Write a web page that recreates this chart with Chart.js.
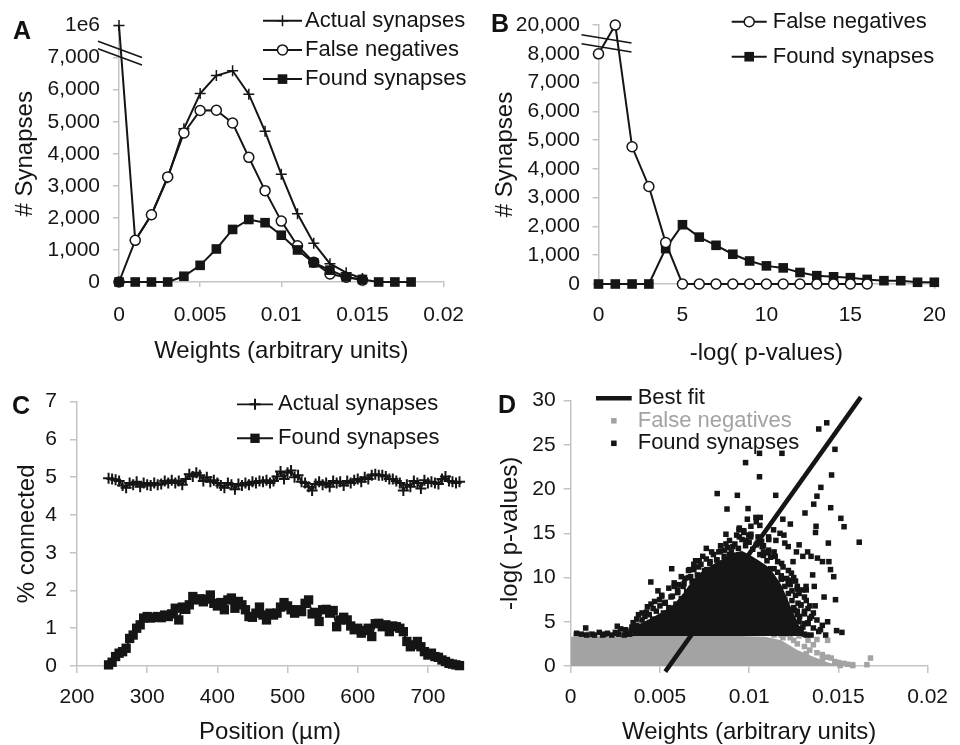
<!DOCTYPE html>
<html>
<head>
<meta charset="utf-8">
<script src="https://cdn.jsdelivr.net/npm/chart.js@4.4.1/dist/chart.umd.min.js"></script>
<style>
  body { margin: 0; background: #fff; }
  #fig { position: relative; width: 960px; height: 745px; font-family: "Liberation Sans", Arial, sans-serif; }
  .panel { position: absolute; }
  .tag { position: absolute; font-weight: bold; font-size: 25px; line-height: 1; transform: translate(-50%, -50%); color: #111; }
</style>
</head>
<body>
<div id="fig">
  <div class="panel" style="left:0;top:0;width:480px;height:372px"><canvas id="chartA"></canvas></div>
  <div class="panel" style="left:480px;top:0;width:480px;height:372px"><canvas id="chartB"></canvas></div>
  <div class="panel" style="left:0;top:372px;width:480px;height:373px"><canvas id="chartC"></canvas></div>
  <div class="panel" style="left:480px;top:372px;width:480px;height:373px"><canvas id="chartD"></canvas></div>
  <div class="tag" style="left:22px;top:30px">A</div>
  <div class="tag" style="left:500px;top:23px">B</div>
  <div class="tag" style="left:21px;top:405px">C</div>
  <div class="tag" style="left:507px;top:404px">D</div>
</div>
<script>
// ---- Panel A: synapse counts vs weight ----
const weightsA = [0, 0.001, 0.002, 0.003, 0.004, 0.005, 0.006, 0.007, 0.008, 0.009, 0.010, 0.011, 0.012, 0.013, 0.014, 0.015, 0.016, 0.017, 0.018];
const actualA = [8000, 1300, 2100, 3250, 4780, 5880, 6440, 6590, 5860, 4700, 3360, 2130, 1210, 570, 290, 110];
const falseNegA = [0, 1300, 2100, 3280, 4650, 5350, 5360, 4960, 3890, 2850, 1900, 1130, 620, 250, 150, 60];
const foundA = [0, 0, 0, 0, 180, 520, 1030, 1640, 1950, 1850, 1460, 1000, 600, 370, 160, 80, 0, 0, 0];
const countTicksA = [0, 1000, 2000, 3000, 4000, 5000, 6000, 7000, 8000];
const countTextA = ['0', '1,000', '2,000', '3,000', '4,000', '5,000', '6,000', '7,000', '1e6'];
const weightTicks = [0, 0.005, 0.01, 0.015, 0.02];
const weightText = ['0', '0.005', '0.01', '0.015', '0.02'];

// ---- Panel B: synapse counts vs -log(p) ----
const pvalsB = [0, 1, 2, 3, 4, 5, 6, 7, 8, 9, 10, 11, 12, 13, 14, 15, 16, 17, 18, 19, 20];
const falseNegB = [8000, 9000, 4770, 3390, 1440, 0, 0, 0, 0, 0, 0, 0, 0, 0, 0, 0, 0];
const foundB = [0, 0, 0, 0, 1230, 2060, 1630, 1345, 1035, 800, 630, 560, 400, 290, 250, 220, 160, 115, 115, 60, 60];
const countTicksB = [0, 1000, 2000, 3000, 4000, 5000, 6000, 7000, 8000, 9000];
const countTextB = ['0', '1,000', '2,000', '3,000', '4,000', '5,000', '6,000', '7,000', '8,000', '20,000'];
const pTicksB = [0, 5, 10, 15, 20];
const pTextB = ['0', '5', '10', '15', '20'];

// ---- Panel C: % connected vs position ----
const positionC = [245,250,255,260,265,270,275,280,285,290,295,300,305,310,315,320,325,330,335,340,345,350,355,360,365,370,375,380,385,390,395,400,405,410,415,420,425,430,435,440,445,450,455,460,465,470,475,480,485,490,495,500,505,510,515,520,525,530,535,540,545,550,555,560,565,570,575,580,585,590,595,600,605,610,615,620,625,630,635,640,645,650,655,660,665,670,675,680,685,690,695,700,705,710,715,720,725,730,735,740,745];
const actualC = [4.97,4.95,4.93,4.90,4.78,4.72,4.85,4.80,4.88,4.75,
  4.85,4.80,4.78,4.85,4.80,4.82,4.90,4.85,4.92,4.85,
  4.90,4.80,4.95,5.08,5.02,5.12,5.05,4.90,5.00,4.88,
  4.92,4.85,4.78,4.72,4.85,4.80,4.68,4.82,4.78,4.85,
  4.80,4.88,4.85,4.90,4.88,4.92,4.85,4.90,5.02,5.15,
  4.95,5.12,5.18,5.00,5.05,4.88,4.85,4.75,4.65,4.82,
  4.88,4.80,4.85,4.75,4.90,4.85,4.88,4.78,4.90,4.85,
  4.92,4.95,4.88,5.00,4.95,5.05,5.08,5.05,5.05,5.02,
  4.95,4.95,4.90,4.85,4.65,4.80,4.75,4.90,4.85,4.70,
  4.92,4.85,4.88,4.85,4.82,4.95,5.02,4.90,4.88,4.85,
  4.88];
const foundC = [0.03,0.10,0.25,0.34,0.38,0.47,0.73,0.82,1.00,1.09,
  1.27,1.31,1.27,1.29,1.31,1.28,1.35,1.31,1.38,1.53,
  1.22,1.56,1.50,1.62,1.84,1.75,1.78,1.70,1.77,1.88,
  1.66,1.59,1.68,1.49,1.75,1.80,1.53,1.71,1.62,1.49,
  1.31,1.29,1.40,1.56,1.35,1.22,1.40,1.35,1.40,1.56,
  1.68,1.59,1.49,1.40,1.49,1.44,1.66,1.75,1.38,1.42,
  1.18,1.49,1.50,1.40,1.47,1.04,1.22,1.29,1.22,1.06,
  0.96,1.00,0.87,0.94,1.00,0.78,1.12,1.13,1.04,1.09,
  0.91,1.06,1.04,1.00,0.91,0.65,0.51,0.56,0.65,0.51,
  0.38,0.29,0.34,0.25,0.23,0.16,0.12,0.07,0.05,0.03,
  0.01];
const pctTicksC = [0, 1, 2, 3, 4, 5, 6, 7];
const posTicksC = [200, 300, 400, 500, 600, 700];

// ---- Panel D: -log(p) vs weight scatter ----
// dense grey band of false negatives (upper edge, filled down to 0)
const fnBandX = [0, 0.001, 0.002, 0.003, 0.004, 0.006, 0.008, 0.0095, 0.0109, 0.0118, 0.0127, 0.0136, 0.0145, 0.0154];
const fnBandY = [3.3, 3.4, 3.35, 3.4, 3.4, 3.4, 3.4, 3.4, 3.3, 2.9, 1.8, 1.05, 0.35, 0.05];
const fnPtsX = [0.0118, 0.0123, 0.0127, 0.0131, 0.0134, 0.0138, 0.0141, 0.0144, 0.0146, 0.0148, 0.015, 0.0153, 0.0155, 0.0158, 0.0166, 0.0168, 0.0144, 0.0128, 0.0138, 0.0133, 0.0121, 0.0003, 0.001, 0.002, 0.0045, 0.0151, 0.0158, 0.0125, 0.0132, 0.0136, 0.0141, 0.0114, 0.0119];
const fnPtsY = [3.5, 3.2, 2.5, 2.2, 1.8, 1.5, 1.3, 1.0, 0.9, 0.5, 0.4, 0.3, 0.2, 0.15, 0.15, 0.9, 2.9, 3.4, 3.0, 2.9, 3.6, 3.5, 3.6, 3.55, 3.55, 0.05, 0.05, 2.9, 1.4, 2.4, 0.7, 3.5, 3.2];
// dense black core of found synapses (upper edge, filled down to threshold)
const foundCoreX = [0.0034, 0.0036, 0.0045, 0.0052, 0.0058, 0.0063, 0.0068, 0.0073, 0.0079, 0.0086, 0.0091, 0.0096, 0.0100, 0.0105, 0.0110, 0.0114, 0.0118, 0.0121, 0.0124, 0.0127, 0.0130];
const foundCoreY = [3.4, 4.5, 5.4, 6.2, 7.0, 8.2, 9.6, 10.6, 11.4, 12.2, 12.8, 13.0, 12.6, 12.0, 11.3, 10.4, 9.2, 7.8, 6.4, 5.0, 3.4];
const foundDX = [0.01435,0.0139,0.01481,0.01058,0.01184,0.0098,0.01058,0.01462,0.01402,0.0138,0.00821,0.00934,0.01149,0.01362,0.01457,0.00876,0.00994,0.01313,0.01514,0.01532,0.01375,0.01372,0.01617,0.01444,0.01038,0.01062,0.01189,0.01231,0.00943,0.00998,0.01195,0.0128,
  0.00566,0.00666,0.00449,0.00604,0.00489,0.0038,0.00425,0.00261,0.00033,0.00084,0.00133,0.00179,0.00206,0.00257,0.00307,0.0036,
  0.01265,0.01301,0.01328,0.01347,0.01383,0.01411,0.01447,0.01456,0.01474,0.01484,0.0142,0.01356,0.01365,0.01319,0.0131,0.01274,0.01255,0.01283,0.0131,0.01265,0.01301,0.01347,0.01429,0.01228,0.012,0.01219,0.01237,0.01182,0.01146,0.012,0.01173,0.01137,0.01109,0.01073,0.01219,0.01246,0.01109,0.01046,0.01009,0.00982,0.00945,0.00945,0.00909,0.00863,0.00891,0.00818,0.00781,0.00763,0.00717,0.00672,0.00635,0.00599,0.00562,0.00526,0.00498,0.00462,0.00416,0.00453,0.00343,
  0.0108,0.0112,0.0118,0.0124,0.0128,0.0133,0.0138,0.0141,0.0126,0.0121,
  0.0034,0.0037,0.004,0.0041,0.0044,0.0046,0.0048,0.005,0.0052,0.0053,0.0055,0.0057,0.0059,0.006,0.0062,0.0063,0.0065,0.0066,0.0068,0.0069,0.0071,0.0073,0.0075,0.0076,0.0078,0.008,0.0082,0.0084,0.0086,0.0088,0.009,0.0092,0.0094,0.0096,0.0098,0.01,0.0102,0.0104,0.0106,0.0108,0.011,0.0112,0.0114,0.0116,0.0118,0.012,0.0122,0.0124,0.0125,0.0127,0.0128,0.0129,0.0131,
  0.0033,0.003,0.0027,0.0023,0.0039,0.0043,0.0131,0.0134,0.0129,0.0132,0.0136,0.0133,0.0127,0.0123,0.0107,0.0101,0.0097,0.0087,0.0083,0.0074,0.0070,0.0064,0.0058,0.0051,0.0045,0.0140,0.0137,0.0144,0.0149,0.0152,
  0.0116,0.0119,0.0122,0.0125,0.0121,0.0127,0.0123,0.013,0.0126,0.0132,0.0129,0.0134,0.0127,0.0131,0.0135,0.0133,0.0136,0.0139,0.0129,0.0132,
  0.0084,0.0089,0.0093,0.0097,0.0101,0.0105,0.0108,0.0111,0.0114,0.0087,0.0079,0.0076,0.0072,0.0069,0.0066,0.0062,0.0058,0.0055,0.0051,0.0047,0.0043,0.004,0.0037,0.0035,0.0031,0.0028,0.0025,0.0019,0.0016,0.0012,0.0009,0.0006,
  0.0106,0.0111,0.0115,0.0104,0.0099];
const foundDY = [27.5,26.8,24.5,24.05,24.05,23.0,21.4,21.6,20.2,19.2,19.5,19.3,19.3,18.3,17.9,17.75,17.8,17.3,16.7,15.75,15.8,15.1,14.0,13.9,16.8,16.8,16.6,16.05,15.4,14.8,14.8,13.7,
  11.0,10.9,9.5,9.2,8.5,5.8,6.1,4.5,3.7,4.3,3.5,3.5,3.7,3.7,4.1,4.4,
  12.9,12.4,12.9,12.4,12.2,11.8,11.8,10.9,10.1,7.5,7.8,10.3,9.0,9.0,7.8,7.1,6.3,5.6,4.8,4.3,4.4,3.5,3.5,5.2,7.5,9.3,10.5,11.6,12.4,13.9,15.0,15.4,14.6,13.5,13.5,11.8,13.1,13.9,14.6,14.2,14.6,15.6,13.5,13.1,12.6,12.0,11.8,10.9,11.2,10.1,9.3,8.6,7.8,7.1,7.5,6.5,5.6,4.8,4.4,
  12.5,11.0,10.2,8.5,8.2,6.5,5.2,4.6,9.6,6.5,
  4.0,4.6,5.2,4.4,5.8,5.3,6.2,6.8,6.0,7.2,6.6,7.9,7.0,8.3,7.6,9.0,8.4,10.0,9.6,10.9,10.3,11.5,10.8,12.1,11.6,12.6,12.0,13.0,12.4,13.4,12.9,13.8,13.3,14.3,13.6,14.0,13.2,13.7,12.6,12.9,11.9,12.3,11.0,10.6,9.8,9.0,8.2,7.4,6.6,5.8,5.0,4.2,3.6,
  3.6,3.5,3.6,3.5,4.1,4.3,6.2,5.4,6.9,8.6,6.0,4.9,8.7,9.7,14.1,14.9,15.1,13.8,12.9,12.4,11.9,9.9,9.0,7.9,7.0,4.1,6.8,5.0,4.0,3.8,
  11.8,11.2,10.8,10.0,9.9,9.0,9.2,8.6,8.0,7.4,6.9,6.8,6.2,5.9,5.6,4.8,4.3,3.9,3.9,3.5,
  13.6,14.2,14.8,15.3,15.8,14.6,13.6,12.8,12.9,14.9,12.9,13.3,11.9,11.5,10.8,10.1,9.4,8.8,8.0,7.3,6.7,6.0,5.3,4.9,3.9,4.2,3.8,3.6,3.8,3.6,3.5,3.6,
  15.9,14.3,14.2,16.3,16.6];
const bestFitX = [0.0053, 0.01626];
const bestFitY = [-0.64, 30.4];
const logTicksD = [0, 5, 10, 15, 20, 25, 30];

const INK = '#151515';
const AXIS = '#c4c4c4';
const GREY = '#a3a3a3';
Chart.defaults.font.family = '"Liberation Sans", Arial, sans-serif';
Chart.defaults.color = INK;

const xy = (xs, ys) => ys.map((y, i) => ({ x: xs[i], y }));

function mark(ctx, style, x, y, r, fill, stroke, lw) {
  ctx.beginPath();
  if (style === 'circle') {
    ctx.arc(x, y, r, 0, Math.PI * 2);
    ctx.fillStyle = fill; ctx.fill();
    ctx.lineWidth = lw; ctx.strokeStyle = stroke; ctx.stroke();
  } else if (style === 'rect') {
    const s = r * Math.SQRT1_2;
    ctx.fillStyle = fill; ctx.fillRect(x - s, y - s, 2 * s, 2 * s);
  } else if (style === 'cross') {
    ctx.moveTo(x - r, y); ctx.lineTo(x + r, y);
    ctx.moveTo(x, y - r); ctx.lineTo(x, y + r);
    ctx.lineWidth = lw; ctx.strokeStyle = stroke; ctx.stroke();
  }
}

// legend drawn as a vertical list inside the plot
const listLegend = {
  id: 'listLegend',
  afterDraw(chart, args, o) {
    const ctx = chart.ctx;
    ctx.save();
    ctx.font = '22px "Liberation Sans", Arial, sans-serif';
    ctx.textBaseline = 'middle';
    chart.data.datasets.forEach(ds => {
      if (ds.legendRow === undefined) return;
      const y = o.top + ds.legendRow * o.rowGap;
      const x0 = o.left, x1 = o.left + o.lineLen;
      if (ds.legendLine !== false) {
        ctx.beginPath(); ctx.moveTo(x0, y); ctx.lineTo(x1, y);
        ctx.lineWidth = ds.borderWidth; ctx.strokeStyle = ds.borderColor; ctx.stroke();
      }
      if (ds.pointRadius > 0) {
        mark(ctx, ds.pointStyle, (x0 + x1) / 2, y, ds.pointRadius, ds.pointBackgroundColor, ds.pointBorderColor, ds.pointBorderWidth);
      }
      ctx.fillStyle = ds.legendColor || INK;
      ctx.fillText(ds.label, x1 + o.gap, y);
    });
    ctx.restore();
  }
};

// two slanted strokes across the y axis where it is broken
const axisBreak = {
  id: 'axisBreak',
  afterDraw(chart, args, o) {
    if (!o || o.value === undefined) return;
    const { ctx, chartArea, scales } = chart;
    const px = chartArea.left;
    const py = scales.y.getPixelForValue(o.value);
    ctx.save();
    ctx.strokeStyle = INK; ctx.lineWidth = 1.6;
    [-o.gap / 2, o.gap / 2].forEach(d => {
      ctx.beginPath();
      ctx.moveTo(px - o.left, py + d - o.left * o.slope);
      ctx.lineTo(px + o.right, py + d + o.right * o.slope);
      ctx.stroke();
    });
    ctx.restore();
  }
};

function axis(o) {
  const horiz = o.pos === 'bottom';
  return {
    type: 'linear', position: o.pos, min: o.min, max: o.max,
    afterBuildTicks: s => { s.ticks = o.ticks.map(value => ({ value })); },
    afterFit: s => { if (horiz) s.height = o.size; else s.width = o.size; },
    grid: { drawOnChartArea: false, color: AXIS, lineWidth: 1.5, tickLength: o.tickLen },
    border: { color: AXIS, width: 1.5 },
    ticks: { autoSkip: false, maxRotation: 0, padding: o.pad, color: INK, font: { size: 21 }, callback: (v, i) => o.text[i] },
    title: { display: true, text: o.title, color: INK, font: { size: 24, lineHeight: 1 },
      padding: horiz ? { top: 0, bottom: o.titlePad } : { top: o.titlePad, bottom: 0 } }
  };
}

function lineSet(label, xs, ys, style, extra) {
  return Object.assign({
    label, data: xy(xs, ys), borderColor: INK, borderWidth: 2, fill: false, clip: false,
    pointStyle: style, pointBorderColor: INK, pointBorderWidth: 1.5
  }, extra);
}

function baseOptions(padding, scales, legend, brk) {
  return {
    responsive: true, maintainAspectRatio: false, animation: false, events: [],
    layout: { padding, autoPadding: false },
    plugins: { legend: { display: false }, tooltip: { enabled: false }, listLegend: legend, axisBreak: brk || {} },
    scales
  };
}

new Chart(document.getElementById('chartA'), {
  type: 'line',
  data: { datasets: [
    lineSet('Actual synapses', weightsA, actualA, 'cross', { pointRadius: 5.5, pointBackgroundColor: INK, legendRow: 0, order: 2 }),
    lineSet('False negatives', weightsA, falseNegA, 'circle', { pointRadius: 5, pointBackgroundColor: '#fff', legendRow: 1, order: 1 }),
    lineSet('Found synapses', weightsA, foundA, 'rect', { pointRadius: 6.8, pointBackgroundColor: INK, pointBorderWidth: 0, legendRow: 2, order: 0 })
  ] },
  options: baseOptions({ left: 0, top: 20, right: 29, bottom: 0 }, {
    x: axis({ pos: 'bottom', min: 0, max: 0.02, ticks: weightTicks, text: weightText, size: 90, tickLen: 5, pad: 16, title: 'Weights (arbitrary units)', titlePad: 9 }),
    y: axis({ pos: 'left', min: 0, max: 8000, ticks: countTicksA, text: countTextA, size: 119, tickLen: 6, pad: 13, title: '# Synapses', titlePad: 13 })
  }, { left: 263, top: 20.7, rowGap: 29.2, lineLen: 39, gap: 3 },
  { value: 7150, gap: 7.5, slope: 0.37, left: 21, right: 23 }),
  plugins: [listLegend, axisBreak]
});

new Chart(document.getElementById('chartB'), {
  type: 'line',
  data: { datasets: [
    lineSet('False negatives', pvalsB, falseNegB, 'circle', { pointRadius: 5, pointBackgroundColor: '#fff', legendRow: 0, order: 0 }),
    lineSet('Found synapses', pvalsB, foundB, 'rect', { pointRadius: 6.8, pointBackgroundColor: INK, pointBorderWidth: 0, legendRow: 1, order: 1 })
  ] },
  options: baseOptions({ left: 0, top: 21.5, right: 13, bottom: 0 }, {
    x: axis({ pos: 'bottom', min: 0, max: 20, ticks: pTicksB, text: pTextB, size: 88, tickLen: 5, pad: 14, title: '-log( p-values)', titlePad: 7 }),
    y: axis({ pos: 'left', min: 0, max: 9000, ticks: countTicksB, text: countTextB, size: 118.5, tickLen: 6, pad: 12.5, title: '# Synapses', titlePad: 13 })
  }, { left: 251.7, top: 21.7, rowGap: 35, lineLen: 35, gap: 6 },
  { value: 8410, gap: 9, slope: 0.165, left: 17, right: 33 }),
  plugins: [listLegend, axisBreak]
});

new Chart(document.getElementById('chartC'), {
  type: 'line',
  data: { datasets: [
    lineSet('Actual synapses', positionC, actualC, 'cross', { pointRadius: 5.5, borderWidth: 1.8, pointBorderWidth: 2, pointBackgroundColor: INK, legendRow: 0 }),
    lineSet('Found synapses', positionC, foundC, 'rect', { pointRadius: 6.6, pointBackgroundColor: INK, pointBorderWidth: 0, legendRow: 1 })
  ] },
  options: baseOptions({ left: 0, top: 29.7, right: 17, bottom: 0 }, {
    x: axis({ pos: 'bottom', min: 200, max: 750, ticks: posTicksC, text: posTicksC.map(String), size: 79, tickLen: 7, pad: 12, title: 'Position (\u00b5m)', titlePad: 1 }),
    y: axis({ pos: 'left', min: 0, max: 7, ticks: pctTicksC, text: pctTicksC.map(String), size: 77, tickLen: 7, pad: 13, title: '% connected', titlePad: 15 })
  }, { left: 237, top: 32.3, rowGap: 34, lineLen: 36, gap: 5 }),
  plugins: [listLegend, axisBreak]
});

new Chart(document.getElementById('chartD'), {
  type: 'line',
  data: { datasets: [
    { label: 'Best fit', data: xy(bestFitX, bestFitY), borderColor: INK, borderWidth: 4.5, pointRadius: 0, fill: false, clip: false, legendRow: 0, order: 0 },
    { label: 'False negatives', data: xy(fnPtsX, fnPtsY), showLine: false, pointStyle: 'rect', pointRadius: 3.9, pointBackgroundColor: GREY, pointBorderWidth: 0, borderWidth: 0, clip: false, legendRow: 1, legendLine: false, legendColor: GREY, order: 3 },
    { label: 'Found synapses', data: xy(foundDX, foundDY), showLine: false, pointStyle: 'rect', pointRadius: 3.9, pointBackgroundColor: INK, pointBorderWidth: 0, borderWidth: 0, clip: false, legendRow: 2, legendLine: false, order: 1 },
    { label: 'fn band', data: xy(fnBandX, fnBandY), borderWidth: 0, pointRadius: 0, fill: 'origin', backgroundColor: GREY, clip: false, order: 4 },
    { label: 'found core', data: xy(foundCoreX, foundCoreY), borderWidth: 0, pointRadius: 0, fill: { value: 3.4 }, backgroundColor: INK, clip: false, order: 2 }
  ] },
  options: baseOptions({ left: 0, top: 28.7, right: 23.3, bottom: 0 }, {
    x: axis({ pos: 'bottom', min: 0, max: 0.02, ticks: weightTicks, text: weightText, size: 79, tickLen: 7, pad: 12, title: 'Weights (arbitrary units)', titlePad: 1 }),
    y: axis({ pos: 'left', min: 0, max: 30, ticks: logTicksD, text: logTicksD.map(String), size: 90.7, tickLen: 7, pad: 8, title: '-log( p-values)', titlePad: 18 })
  }, { left: 116, top: 26.3, rowGap: 22.5, lineLen: 35.7, gap: 6 }),
  plugins: [listLegend, axisBreak]
});
</script>
</body>
</html>
